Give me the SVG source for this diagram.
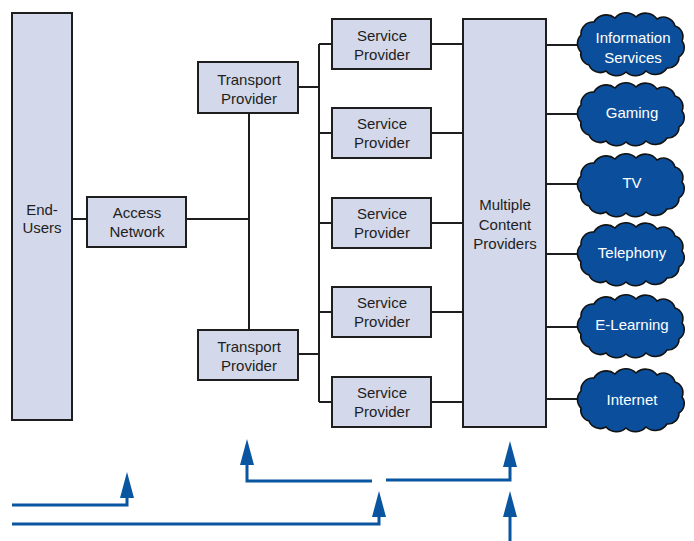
<svg xmlns="http://www.w3.org/2000/svg" width="694" height="541" viewBox="0 0 694 541">
  <style>
    .box { fill: #d3d8ea; stroke: #1e1e1e; stroke-width: 2; }
    .lbl { font-family: "Liberation Sans", Arial, sans-serif; font-size: 15px; fill: #1e1e1e; text-anchor: middle; }
    .cl { fill: #0b4f9c; stroke: #111; stroke-width: 1.6; }
    .cltxt { font-family: "Liberation Sans", Arial, sans-serif; font-size: 15px; fill: #ffffff; text-anchor: middle; }
    .wire { fill: none; stroke: #1e1e1e; stroke-width: 2; }
    .flow { fill: none; stroke: #0a55a0; stroke-width: 3; marker-end: url(#head); }
  </style>
  <defs>
    <marker id="head" viewBox="0 0 26 14" refX="0" refY="7" markerWidth="26" markerHeight="14" markerUnits="userSpaceOnUse" orient="auto">
      <path d="M0,0 L26,7 L0,14 z" fill="#0a55a0"/>
    </marker>
    <!-- scalloped cloud outline, centred on 0,0 -->
    <path id="cloud" class="cl" d="M-49,8 A12,12 0 0 1 -49,-9 A12,12 0 0 1 -36,-22 A14,14 0 0 1 -15,-26 A14,14 0 0 1 6,-27 A14,14 0 0 1 27,-25 A12,12 0 0 1 45,-18 A11,11 0 0 1 52,-3 A11,11 0 0 1 49,13 A11,11 0 0 1 37,24 A14,14 0 0 1 16,27 A14,14 0 0 1 -4,28 A14,14 0 0 1 -24,27 A12,12 0 0 1 -41,21 A11,11 0 0 1 -49,8 Z"/>
  </defs>

  <!-- connectors -->
  <g id="connectors">
    <path class="wire" d="M72,219 H87 M186,219 H249 M249,113 V330"/>
    <path class="wire" d="M298,87 H319 M298,354 H319 M319,44 V402"/>
    <path class="wire" d="M319,44 H332 M319,133 H332 M319,223 H332 M319,312 H332 M319,402 H332"/>
    <path class="wire" d="M431,44 H463 M431,133 H463 M431,223 H463 M431,312 H463 M431,402 H463"/>
    <path class="wire" d="M546,45 H582 M546,114 H582 M546,184 H582 M546,254 H582 M546,327 H582 M546,399 H582"/>
    <path class="flow" d="M12,505 H127 V498"/>
    <path class="flow" d="M12,524 H379 V517"/>
    <path class="flow" d="M372,481 H247 V465"/>
    <path class="flow" d="M386,480 H510 V467"/>
    <path class="flow" d="M510,541 V517"/>
  </g>

  <g id="end-users">
    <rect class="box" x="12" y="13" width="60" height="407"/>
    <text class="lbl" x="42" y="215">End-</text>
    <text class="lbl" x="42" y="233">Users</text>
  </g>
  <g id="access-network">
    <rect class="box" x="87" y="197" width="99" height="50"/>
    <text class="lbl" x="137" y="218">Access</text>
    <text class="lbl" x="137" y="237">Network</text>
  </g>
  <g id="transport-1">
    <rect class="box" x="198" y="62" width="100" height="51"/>
    <text class="lbl" x="249" y="85">Transport</text>
    <text class="lbl" x="249" y="104">Provider</text>
  </g>
  <g id="transport-2">
    <rect class="box" x="198" y="330" width="100" height="50"/>
    <text class="lbl" x="249" y="352">Transport</text>
    <text class="lbl" x="249" y="371">Provider</text>
  </g>
  <g id="service-1">
    <rect class="box" x="332" y="19" width="99" height="50"/>
    <text class="lbl" x="382" y="41">Service</text>
    <text class="lbl" x="382" y="60">Provider</text>
  </g>
  <g id="service-2">
    <rect class="box" x="332" y="108" width="99" height="50"/>
    <text class="lbl" x="382" y="129">Service</text>
    <text class="lbl" x="382" y="148">Provider</text>
  </g>
  <g id="service-3">
    <rect class="box" x="332" y="198" width="99" height="50"/>
    <text class="lbl" x="382" y="219">Service</text>
    <text class="lbl" x="382" y="238">Provider</text>
  </g>
  <g id="service-4">
    <rect class="box" x="332" y="287" width="99" height="50"/>
    <text class="lbl" x="382" y="308">Service</text>
    <text class="lbl" x="382" y="327">Provider</text>
  </g>
  <g id="service-5">
    <rect class="box" x="332" y="377" width="99" height="50"/>
    <text class="lbl" x="382" y="398">Service</text>
    <text class="lbl" x="382" y="417">Provider</text>
  </g>
  <g id="content-providers">
    <rect class="box" x="463" y="19" width="83" height="408"/>
    <text class="lbl" x="505" y="210">Multiple</text>
    <text class="lbl" x="505" y="230">Content</text>
    <text class="lbl" x="505" y="249">Providers</text>
  </g>

  <g id="info-services">
    <use href="#cloud" x="630" y="44"/>
    <text class="cltxt" x="633" y="43">Information</text>
    <text class="cltxt" x="633" y="63">Services</text>
  </g>
  <g id="gaming">
    <use href="#cloud" x="630" y="114"/>
    <text class="cltxt" x="632" y="118">Gaming</text>
  </g>
  <g id="tv">
    <use href="#cloud" x="630" y="185"/>
    <text class="cltxt" x="632" y="188">TV</text>
  </g>
  <g id="telephony">
    <use href="#cloud" x="630" y="254"/>
    <text class="cltxt" x="632" y="258">Telephony</text>
  </g>
  <g id="e-learning">
    <use href="#cloud" x="630" y="326"/>
    <text class="cltxt" x="632" y="330">E-Learning</text>
  </g>
  <g id="internet">
    <use href="#cloud" x="630" y="400"/>
    <text class="cltxt" x="632" y="405">Internet</text>
  </g>
</svg>
